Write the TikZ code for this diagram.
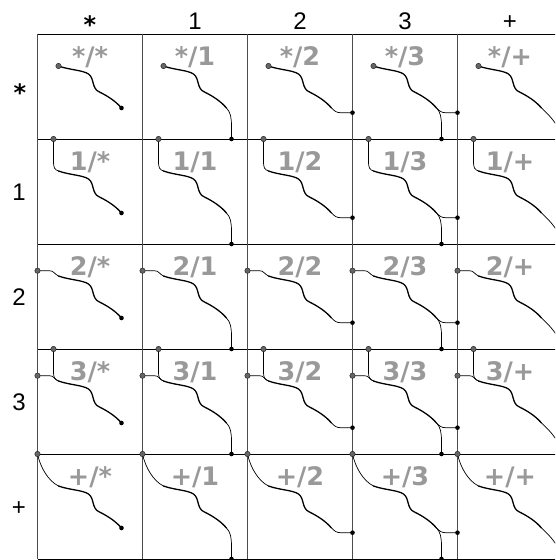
\documentclass[tikz,border=0pt]{standalone}
\usepackage{fontspec}
\setmainfont{Liberation Sans}
\newfontfamily\lblfont{DejaVu Sans}
\begin{document}
\begin{tikzpicture}[x=1pt,y=-1pt,
  gridh/.style={black, line width=0.9pt},
  gridv/.style={black!70, line width=1.2pt},
  core/.style={black, line width=1.3pt, line cap=round},
  link/.style={black, line width=0.7pt},
  sdot/.style={circle, fill=black!60, draw=black!85, line width=0.5pt, inner sep=0pt, minimum size=5.4pt},
  edot/.style={circle, fill=black, inner sep=0pt, minimum size=4.6pt},
  hdr/.style={font=\fontsize{24}{28}\selectfont, inner sep=0pt, anchor=base},
  ast/.style={font=\lblfont\bfseries\fontsize{24}{28}\selectfont, inner sep=0pt, anchor=base},
  lbl/.style={font=\lblfont\bfseries\fontsize{25.5}{28}\selectfont, text=black!40, inner sep=0pt, anchor=base}
]
\useasboundingbox (0,0) rectangle (555,560);
\clip (0,0) rectangle (555,560);
% grid
\foreach \k in {0,...,5} {
  \draw[gridh] (37.5,34+105*\k) -- (562.5,34+105*\k);
}
\foreach \k in {0,...,5} {
  \draw[gridv] (37.5+105*\k,34) -- (37.5+105*\k,559);
}
% headers
\foreach \c/\cl in {0/*,1/1,2/2,3/3,4/+} {
  \ifnum\c=0
    \node[ast] (H\c) at (90+105*\c,33) {\cl};
  \else
    \node[hdr] (H\c) at (90+105*\c,29) {\cl};
  \fi
}
\foreach \r/\rl in {0/*,1/1,2/2,3/3,4/+} {
  \ifnum\r=0
    \node[ast] (V\r) at (20,86.5+105*\r+14.5) {\rl};
  \else
    \node[hdr] (V\r) at (19,86.5+105*\r+8.6) {\rl};
  \fi
}
% cells
\foreach \r/\rl in {0/*,1/1,2/2,3/3,4/+} {
\foreach \c/\cl in {0/*,1/1,2/2,3/3,4/+} {
\begin{scope}[shift={(37.5+105*\c,34+105*\r)}]
  \node[lbl] (L\r\c) at (52.5,31) {\rl/\cl};
  \coordinate (a\r\c) at (21,32);
  \coordinate (b\r\c) at (84,74);
  \coordinate (T\r\c) at (16,0);
  \coordinate (W\r\c) at (0,26.7);
  \coordinate (K\r\c) at (0,0);
  \coordinate (B\r\c) at (89,105);
  \coordinate (R\r\c) at (105,78.7);
  \coordinate (C\r\c) at (105,105);
  % start links
  \ifodd\r
    \draw[link] (T\r\c) -- (16,22) .. controls (16,29) and (17,30.5) .. (a\r\c);
  \fi
  \ifnum\r>1 \ifnum\r<4
    \draw[link] (W\r\c) -- (12,26.7) .. controls (16,26.7) and (17,30) .. (a\r\c);
  \fi\fi
  \ifnum\r=4
    \draw[link] (K\r\c) .. controls (3,14) and (11,27) .. (a\r\c);
  \fi
  % end links
  \ifodd\c
    \draw[link] (b\r\c) .. controls (88,78) and (89,84) .. (89,92) -- (B\r\c);
  \fi
  \ifnum\c>1 \ifnum\c<4
    \draw[link] (b\r\c) .. controls (87,77) and (89,78.7) .. (93,78.7) -- (R\r\c);
  \fi\fi
  \ifnum\c=4
    \draw[link] (b\r\c) .. controls (94,83) and (103,94) .. (C\r\c);
  \fi
  % core
  \draw[core] (a\r\c) .. controls (32,36) and (45,36) .. (51,40)
     .. controls (57,44) and (54,55) .. (62,58)
     .. controls (70,62) and (78,67) .. (b\r\c);
  % dots
  \ifnum\r=0 \node[sdot] (sa\r\c) at (a\r\c) {}; \fi
  \ifodd\r \node[sdot] (st\r\c) at (T\r\c) {}; \fi
  \ifnum\r>1 \ifnum\r<4 \node[sdot] (sw\r\c) at (W\r\c) {}; \fi\fi
  \ifnum\r=4 \node[sdot] (sk\r\c) at (K\r\c) {}; \fi
  \ifnum\c=0 \node[edot] (eb\r\c) at (b\r\c) {}; \fi
  \ifodd\c \node[edot] (eB\r\c) at (B\r\c) {}; \fi
  \ifnum\c>1 \ifnum\c<4 \node[edot] (eR\r\c) at (R\r\c) {}; \fi\fi
  \ifnum\c=4 \node[edot] (eC\r\c) at (C\r\c) {}; \fi
\end{scope}
}
}
\end{tikzpicture}
\end{document}
